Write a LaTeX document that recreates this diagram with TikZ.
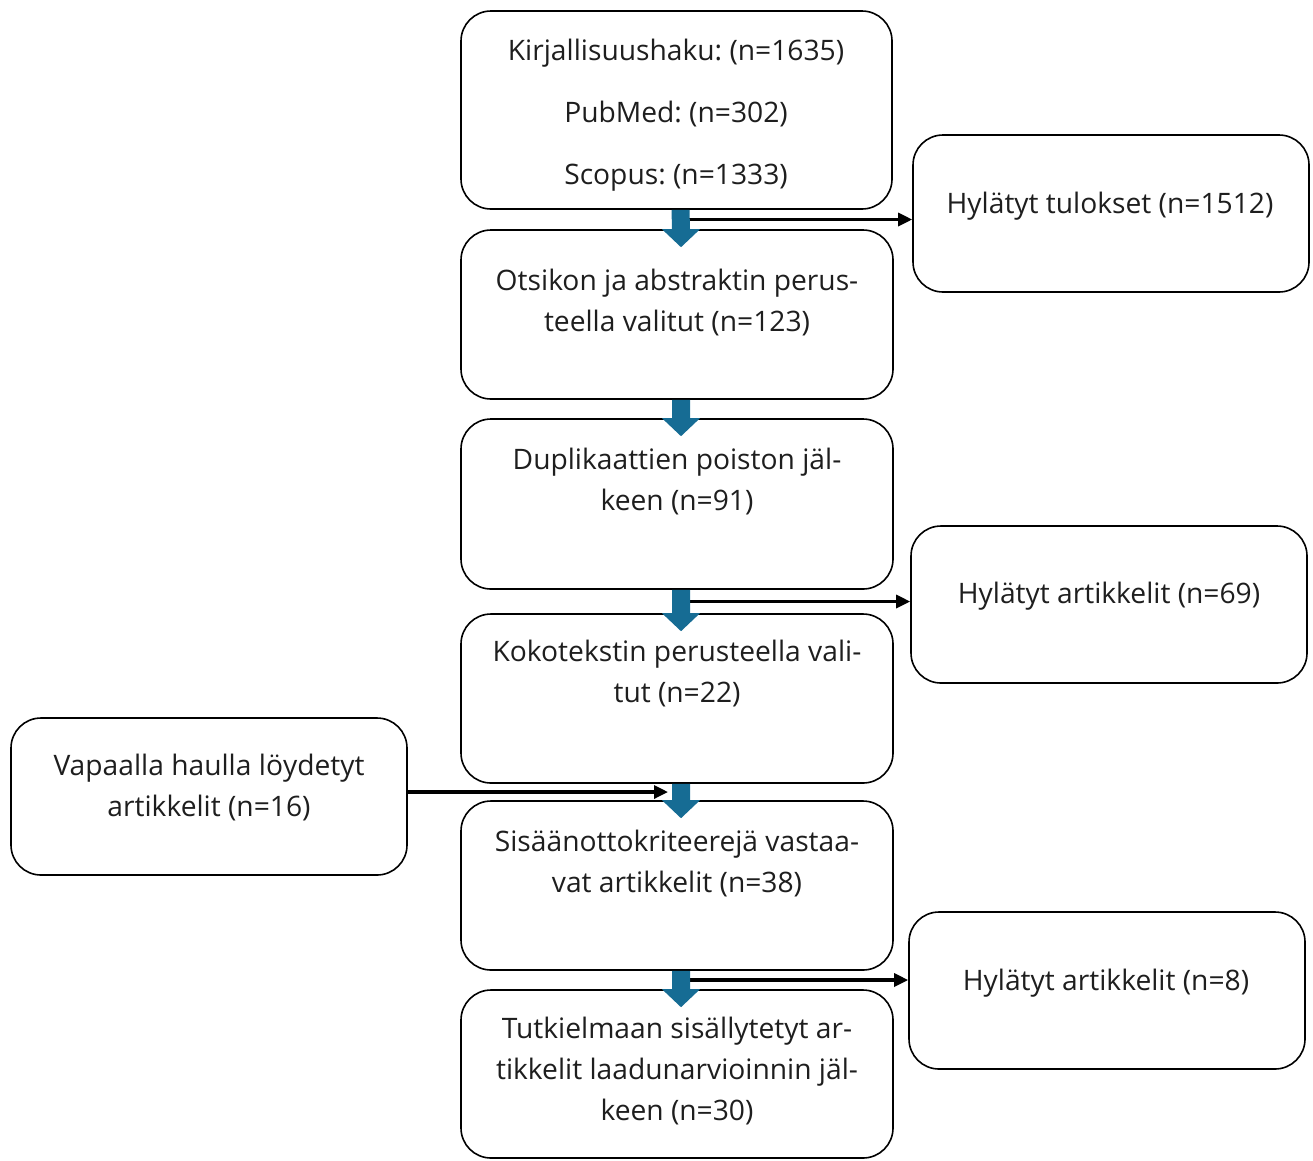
\documentclass[tikz,border=0pt]{standalone}
\usepackage{fontspec}
\setmainfont{Open Sans}
\usetikzlibrary{calc,arrows.meta}
\definecolor{arrowblue}{RGB}{22,108,148}
\definecolor{txtcol}{RGB}{30,30,30}
\newcommand\blkarrow[2]{%
  \fill[arrowblue] ($(#1.south)+(-5,0)$) -- ($(#1.south)+(13,0)$) -- ($(#2.north)+(13,0)$) -- ($(#2.north)+(23,0)$) -- ($(#2.north)+(4,18)$) -- ($(#2.north)+(-15,0)$) -- ($(#2.north)+(-5,0)$) -- cycle;}
\frenchspacing
\begin{document}
\begin{tikzpicture}[x=1pt,y=-1pt,
  box/.style={draw=black, line width=1.6pt, rounded corners=30pt, inner sep=0pt},
  boxtext/.style={text=txtcol, align=center, inner sep=0pt, font=\fontsize{28.2}{41}\selectfont},
  conn/.style={line width=3.2pt, -{Triangle[length=14pt,width=13pt]}}]
\useasboundingbox (0,0) rectangle (1313,1160);
% main column
\node[box, minimum width=431pt, minimum height=198pt] (b1) at (676.5,110) {};
\node[box, minimum width=432pt, minimum height=169pt] (b2) at (677,314.5) {};
\node[box, minimum width=432pt, minimum height=170pt] (b3) at (677,504) {};
\node[box, minimum width=432pt, minimum height=169pt] (b4) at (677,698.5) {};
\node[box, minimum width=432pt, minimum height=169pt] (b5) at (677,885.5) {};
\node[box, minimum width=432pt, minimum height=168pt] (b6) at (677,1074) {};
% side boxes
\node[box, minimum width=396pt, minimum height=157pt] (r1) at (1111,213.5) {};
\node[box, minimum width=396pt, minimum height=157pt] (r2) at (1109,604.5) {};
\node[box, minimum width=396pt, minimum height=157pt] (r3) at (1107,990.5) {};
\node[box, minimum width=396pt, minimum height=157pt] (lb) at (209,796.5) {};
% texts
\node[boxtext] (t1) at (676,115) {Kirjallisuushaku: (n=1635)\\[21pt]PubMed: (n=302)\\[21pt]Scopus: (n=1333)};
\node[boxtext] (t2) at (677,303) {Otsikon ja abstraktin perus-\\teella valitut (n=123)};
\node[boxtext] (t3) at (677,482) {Duplikaattien poiston jäl-\\keen (n=91)};
\node[boxtext] (t4) at (677,673.5) {Kokotekstin perusteella vali-\\tut (n=22)};
\node[boxtext] (t5) at (677,863) {Sisäänottokriteerejä vastaa-\\vat artikkelit (n=38)};
\node[boxtext] (t6) at (677,1071) {Tutkielmaan sisällytetyt ar-\\tikkelit laadunarvioinnin jäl-\\keen (n=30)};
\node[boxtext] (tr1) at (1110,206) {Hylätyt tulokset (n=1512)};
\node[boxtext] (tr2) at (1109,596) {Hylätyt artikkelit (n=69)};
\node[boxtext] (tr3) at (1106,983) {Hylätyt artikkelit (n=8)};
\node[boxtext] (tl) at (209,788) {Vapaalla haulla löydetyt\\artikkelit (n=16)};
% gap coordinates
\coordinate (g1) at ($(b1.south)!0.5!(b2.north)$);
\coordinate (g3) at ($(b3.south)!0.5!(b4.north)$);
\coordinate (g4) at ($(b4.south)!0.5!(b5.north)$);
\coordinate (g5) at ($(b5.south)!0.5!(b6.north)$);
% black connectors
\draw[conn] ([xshift=4pt]g1) -- (g1 -| r1.west);
\draw[conn] ([xshift=4pt]g3) -- (g3 -| r2.west);
\draw[conn] ([xshift=4pt]g5) -- (g5 -| r3.west);
% blue block arrows
\blkarrow{b1}{b2}
\blkarrow{b2}{b3}
\blkarrow{b3}{b4}
\blkarrow{b4}{b5}
\blkarrow{b5}{b6}
\draw[conn] (g4 -| lb.east) -- ([xshift=-9pt]g4);
\end{tikzpicture}
\end{document}
